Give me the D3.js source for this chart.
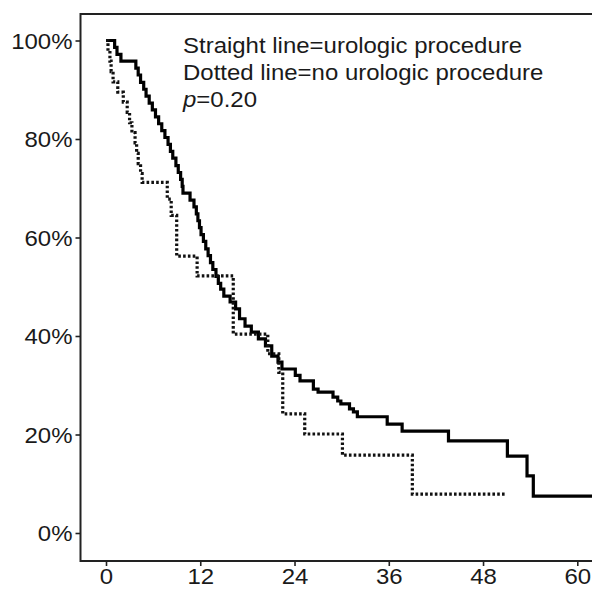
<!DOCTYPE html>
<html>
<head>
<meta charset="utf-8">
<script src="https://cdn.jsdelivr.net/npm/d3@7"></script>
<style>
  body { margin: 0; background: #fff; }
  svg { display: block; font-family: "Liberation Sans", Arial, sans-serif; }
  .tick text { fill: #1a1a1a; }
</style>
</head>
<body>
<svg></svg>
<script>
// DATA

// Kaplan-Meier steps: [month, survival %]
let urologicCurve = [
  [0,100],[1.1,98.6],[1.4,97.2],[1.9,95.8],[3.8,94.4],[4.1,93.0],[4.4,91.5],[4.8,90.1],
  [5.1,88.7],[5.5,87.3],[5.9,85.9],[6.3,84.5],[6.7,83.1],[7.1,81.7],[7.5,80.3],[7.9,78.9],
  [8.2,77.5],[8.5,76.1],[8.9,74.6],[9.2,73.2],[9.5,71.8],[9.7,70.4],[9.8,69.0],[10.7,67.6],
  [11.2,66.2],[11.5,64.8],[11.7,63.4],[11.9,62.0],[12.1,60.6],[12.4,59.2],[12.7,57.7],
  [13.0,56.3],[13.3,54.9],[13.6,53.5],[14.0,52.1],[14.3,50.7],[14.6,49.5],[15.0,48.1],
  [15.8,46.9],[16.5,45.5],[17.0,43.5],[17.7,42.0],[18.5,40.8],[19.4,39.4],[20.3,38.0],
  [21.1,35.9],[21.9,34.7],[22.4,33.3],[24.1,32.0],[24.7,30.9],[26.4,29.2],[27.0,28.6],
  [28.9,27.6],[29.5,26.8],[29.9,26.2],[31.0,25.2],[31.5,24.6],[32.0,23.6],[35.8,22.1],
  [37.7,20.7],[43.6,18.7],[51.1,15.6],[53.6,11.6],[54.4,7.5],[62,7.5]
];

let noUrologicCurve = [
  [0,100],[0.25,97.9],[0.5,95.8],[0.65,93.7],[0.9,91.6],[1.5,89.5],[2.2,87.5],[2.7,85.4],
  [3.0,83.3],[3.3,81.3],[3.7,79.2],[3.9,77.1],[4.1,75.0],[4.4,73.0],[4.6,71.2],[7.8,67.8],
  [8.3,64.5],[9.0,56.2],[11.6,52.2],[16.2,40.4],[20.6,36.4],[22.0,32.6],[22.5,24.2],
  [25.3,20.1],[30.1,15.8],[39.0,7.9],[50.8,7.9]
];

let xTicks = [0, 12, 24, 36, 48, 60];
let yTicks = [0, 20, 40, 60, 80, 100];
let legendLines = ["Straight line=urologic procedure", "Dotted line=no urologic procedure"];
let pValue = "0.20";

// PAGE SETUP

let W = 592, H = 589;
let frame = {left: 80.5, top: 14, bottom: 561, right: 604};
let fontSize = 22, stretch = 1.09;   // the source type is a bit wider than Arial

let svg = d3.select("svg")
  .attr("width", W)
  .attr("height", H);

let x = d3.scaleLinear().domain([0, 60]).range([106, 577.3]);
let y = d3.scaleLinear().domain([0, 100]).range([533, 40.5]);

// frame (right side is cropped in the original)
svg.append("path")
  .attr("d", `M${frame.right},${frame.top}H${frame.left}V${frame.bottom}H${frame.right}`)
  .attr("fill", "none")
  .attr("stroke", "#222")
  .attr("stroke-width", 2);

// AXES

let yAxis = svg.append("g")
  .attr("transform", `translate(${frame.left},0)`)
  .call(d3.axisLeft(y).tickValues(yTicks).tickFormat(d => d + "%").tickSize(5).tickPadding(3));

let xAxis = svg.append("g")
  .attr("transform", `translate(0,${frame.bottom})`)
  .call(d3.axisBottom(x).tickValues(xTicks).tickSize(5).tickPadding(5));

[yAxis, xAxis].forEach(function(g){
  g.select(".domain").remove();
  g.selectAll(".tick line").attr("stroke", "#222").attr("stroke-width", 1.6);
  g.selectAll(".tick text")
    .attr("font-size", fontSize)
    .attr("font-family", "Liberation Sans, Arial, sans-serif");
});
yAxis.selectAll(".tick text")
  .attr("dy", "0.36em")
  .attr("x", -8 / stretch)
  .attr("transform", `scale(${stretch},1)`);
xAxis.selectAll(".tick text")
  .attr("y", 0)
  .attr("dy", 23)
  .attr("transform", `scale(${stretch},1)`);

// CURVES

let line = d3.line()
  .x(d => x(d[0]))
  .y(d => y(d[1]))
  .curve(d3.curveStepAfter);

svg.append("path")
  .datum(urologicCurve)
  .attr("fill", "none")
  .attr("stroke", "#000")
  .attr("stroke-width", 3.2)
  .attr("d", line);

svg.append("path")
  .datum(noUrologicCurve)
  .attr("fill", "none")
  .attr("stroke", "#111")
  .attr("stroke-width", 3.2)
  .attr("stroke-dasharray", "2.6,2.2")
  .attr("d", line);

// LEGEND TEXT

let legend = svg.append("g")
  .attr("transform", `translate(183,0) scale(${stretch},1)`)
  .attr("font-size", fontSize)
  .attr("fill", "#1a1a1a");

legend.selectAll("text.leg")
  .data(legendLines)
  .enter()
  .append("text")
  .attr("class", "leg")
  .attr("x", 0)
  .attr("y", (d, i) => 53 + i * 27)
  .text(d => d);

let pText = legend.append("text")
  .attr("x", 0)
  .attr("y", 107);
pText.append("tspan").attr("font-style", "italic").text("p");
pText.append("tspan").text("=" + pValue);
</script>
</body>
</html>
